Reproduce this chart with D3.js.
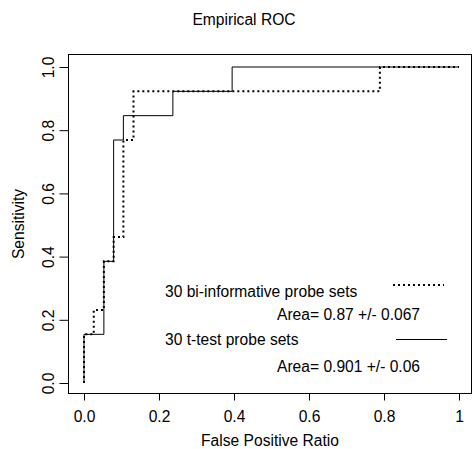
<!DOCTYPE html>
<html lang="en">
<head>
<meta charset="utf-8" />
<title>Empirical ROC</title>
<style>
html, body {
	margin: 0;
	padding: 0;
	background: #fff;
}
svg {
	display: block;
}
text {
	font-family: "Liberation Sans", Arial, Helvetica, sans-serif;
	font-size: 15.6px;
	fill: #000;
}
</style>
</head>
<body>
<svg width="473" height="449"></svg>

<script src="https://cdn.jsdelivr.net/npm/d3@7/dist/d3.min.js"></script>
<script>

// ROC vertices (false positive ratio, sensitivity)
var biFpr = [0, 0, 0.026, 0.053, 0.079, 0.105, 0.132, 0.789, 1];
var biTpr = [0, 0.154, 0.231, 0.385, 0.462, 0.769, 0.923, 1, 1];

var ttFpr = [0, 0, 0.053, 0.079, 0.105, 0.237, 0.395, 1];
var ttTpr = [0, 0.154, 0.385, 0.769, 0.846, 0.923, 1, 1];

var xTicks = [0, 0.2, 0.4, 0.6, 0.8, 1];
var xTickLabels = ["0.0", "0.2", "0.4", "0.6", "0.8", "1"];
var yTicks = [0, 0.2, 0.4, 0.6, 0.8, 1];
var yTickLabels = ["0.0", "0.2", "0.4", "0.6", "0.8", "1.0"];

var legendNames = ["30 bi-informative probe sets", "30 t-test probe sets"];
var legendAreas = ["Area= 0.87 +/- 0.067", "Area= 0.901 +/- 0.06"];

var svg = d3.select("svg");

// plot box
var box = {left: 68.5, right: 471.5, top: 54.5, bottom: 393.5};

var x = d3.scaleLinear().domain([0, 1]).range([84, 459]);
var y = d3.scaleLinear().domain([0, 1]).range([383, 67]);

svg.append("rect")
	.attr("x", box.left)
	.attr("y", box.top)
	.attr("width", box.right - box.left)
	.attr("height", box.bottom - box.top)
	.attr("fill", "none")
	.attr("stroke", "#000")
	.attr("stroke-width", 1);

// x axis (R style: line only between end ticks)
var xAxis = d3.axisBottom(x)
	.tickValues(xTicks)
	.tickFormat(function(d, i){ return xTickLabels[i]; })
	.tickSizeInner(7)
	.tickSizeOuter(0)
	.tickPadding(10);

var gx = svg.append("g")
	.attr("transform", "translate(0," + box.bottom + ")")
	.call(xAxis);

// y axis, labels rotated
var yAxis = d3.axisLeft(y)
	.tickValues(yTicks)
	.tickFormat(function(d, i){ return yTickLabels[i]; })
	.tickSizeInner(9)
	.tickSizeOuter(0)
	.tickPadding(0);

var gy = svg.append("g")
	.attr("transform", "translate(" + box.left + ",0)")
	.call(yAxis);
gy.selectAll(".tick text")
	.attr("x", null)
	.attr("dy", null)
	.attr("text-anchor", "middle")
	.attr("transform", "translate(-15,0) rotate(-90)");

[gx, gy].forEach(function(g){
	g.attr("font-family", null).attr("font-size", null);
	g.select(".domain").remove();
	g.selectAll(".tick line").attr("stroke", "#000");
});

// axis lines between outer ticks
svg.append("line")
	.attr("x1", x(0)).attr("x2", x(1))
	.attr("y1", box.bottom).attr("y2", box.bottom)
	.attr("stroke", "#000");
svg.append("line")
	.attr("x1", box.left).attr("x2", box.left)
	.attr("y1", y(0)).attr("y2", y(1))
	.attr("stroke", "#000");

// titles
svg.append("text")
	.attr("x", 244)
	.attr("y", 25)
	.attr("text-anchor", "middle")
	.text("Empirical ROC");

svg.append("text")
	.attr("x", (box.left + box.right) / 2)
	.attr("y", 446)
	.attr("text-anchor", "middle")
	.text("False Positive Ratio");

svg.append("text")
	.attr("transform", "translate(24," + ((box.top + box.bottom) / 2) + ") rotate(-90)")
	.attr("text-anchor", "middle")
	.text("Sensitivity");

// ROC step curves
var line = d3.line()
	.x(function(d){ return x(d[0]); })
	.y(function(d){ return y(d[1]); })
	.curve(d3.curveStepAfter);

var biPts = d3.zip(biFpr, biTpr);
var ttPts = d3.zip(ttFpr, ttTpr);

svg.append("path")
	.attr("d", line(ttPts))
	.attr("fill", "none")
	.attr("stroke", "#000")
	.attr("stroke-width", 1);

svg.append("path")
	.attr("d", line(biPts))
	.attr("fill", "none")
	.attr("stroke", "#000")
	.attr("stroke-width", 2)
	.attr("stroke-dasharray", "2,3");

// legend
var legY = [297, 345];
var areaY = [320, 372];
var lineY = [285, 339.5];

legendNames.forEach(function(name, i){
	svg.append("text").attr("x", 165).attr("y", legY[i]).text(name);
	svg.append("text").attr("x", 277).attr("y", areaY[i]).text(legendAreas[i]);
	svg.append("line")
		.attr("x1", i === 0 ? 393 : 396)
		.attr("x2", i === 0 ? 444 : 447)
		.attr("y1", lineY[i]).attr("y2", lineY[i])
		.attr("stroke", "#000")
		.attr("stroke-width", i === 0 ? 2 : 1)
		.attr("stroke-dasharray", i === 0 ? "2,3" : null);
});

</script>
</body>
</html>
